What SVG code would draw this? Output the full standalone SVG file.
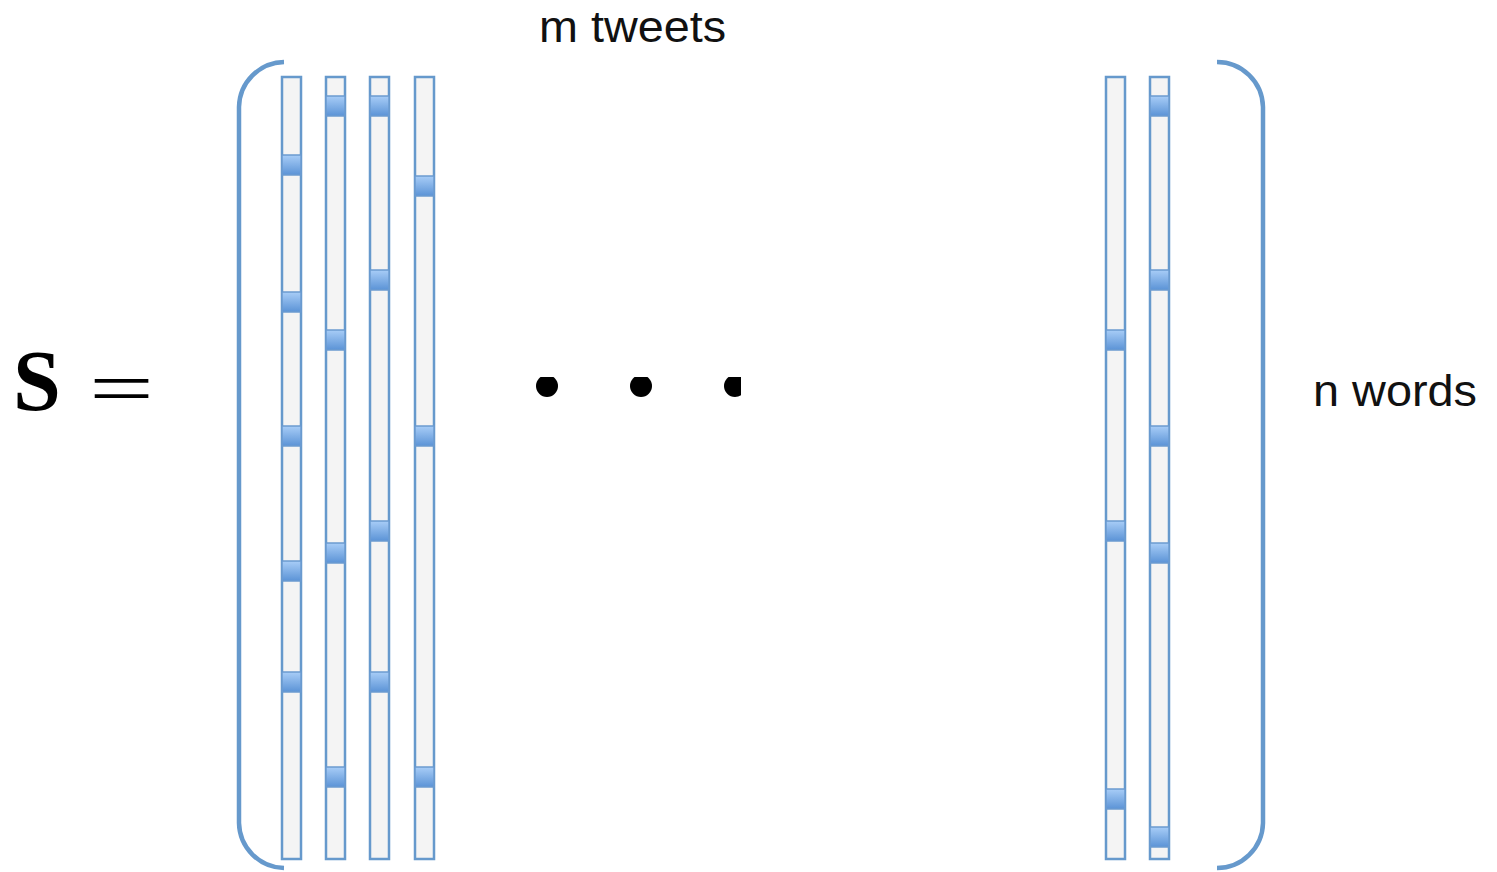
<svg xmlns="http://www.w3.org/2000/svg" width="1497" height="872" viewBox="0 0 1497 872">
<defs>
<linearGradient id="cg" x1="0" y1="0" x2="0" y2="1">
<stop offset="0" stop-color="#a8cdf7"/>
<stop offset="1" stop-color="#5b93d6"/>
</linearGradient>
<clipPath id="dc"><rect x="0" y="377" width="741" height="40"/></clipPath>
<style>
.col{fill:#f4f4f4;stroke:#6699cc;stroke-width:2.5}
.cell{fill:url(#cg);stroke:#6b9bd0;stroke-width:1.5}
.br{fill:none;stroke:#6699cc;stroke-width:4.5}
.lbl{font-family:"Liberation Sans",Arial,sans-serif;font-size:44px;fill:#111}
</style>
</defs>
<rect width="1497" height="872" fill="#fff"/>
<g id="label-S">
<text x="13" y="410" font-family="Liberation Serif,serif" font-weight="bold" font-size="86" fill="#000">S</text>
<text x="89" y="414" font-family="Liberation Serif,serif" font-size="76" fill="#000" textLength="65" lengthAdjust="spacingAndGlyphs">=</text>
</g>
<g id="bracket-left"><path class="br" d="M284,62 A46,46 0 0 0 239,107 L239,823 A46,46 0 0 0 284,868"/></g>
<g id="bracket-right"><path class="br" d="M1217,62 A46,46 0 0 1 1263,107 L1263,823 A46,46 0 0 1 1217,868"/></g>
<g id="col1">
<rect class="col" x="282" y="77" width="19" height="782"/>
<rect class="cell" x="282" y="155" width="19" height="20"/>
<rect class="cell" x="282" y="292" width="19" height="20"/>
<rect class="cell" x="282" y="426" width="19" height="20"/>
<rect class="cell" x="282" y="561" width="19" height="20"/>
<rect class="cell" x="282" y="672" width="19" height="20"/>
</g>
<g id="col2">
<rect class="col" x="326" y="77" width="19" height="782"/>
<rect class="cell" x="326" y="96" width="19" height="20"/>
<rect class="cell" x="326" y="330" width="19" height="20"/>
<rect class="cell" x="326" y="543" width="19" height="20"/>
<rect class="cell" x="326" y="767" width="19" height="20"/>
</g>
<g id="col3">
<rect class="col" x="370" y="77" width="19" height="782"/>
<rect class="cell" x="370" y="96" width="19" height="20"/>
<rect class="cell" x="370" y="270" width="19" height="20"/>
<rect class="cell" x="370" y="521" width="19" height="20"/>
<rect class="cell" x="370" y="672" width="19" height="20"/>
</g>
<g id="col4">
<rect class="col" x="415" y="77" width="19" height="782"/>
<rect class="cell" x="415" y="176" width="19" height="20"/>
<rect class="cell" x="415" y="426" width="19" height="20"/>
<rect class="cell" x="415" y="767" width="19" height="20"/>
</g>
<g id="col5">
<rect class="col" x="1106" y="77" width="19" height="782"/>
<rect class="cell" x="1106" y="330" width="19" height="20"/>
<rect class="cell" x="1106" y="521" width="19" height="20"/>
<rect class="cell" x="1106" y="789" width="19" height="20"/>
</g>
<g id="col6">
<rect class="col" x="1150" y="77" width="19" height="782"/>
<rect class="cell" x="1150" y="96" width="19" height="20"/>
<rect class="cell" x="1150" y="270" width="19" height="20"/>
<rect class="cell" x="1150" y="426" width="19" height="20"/>
<rect class="cell" x="1150" y="543" width="19" height="20"/>
<rect class="cell" x="1150" y="827" width="19" height="20"/>
</g>
<g id="ellipsis" clip-path="url(#dc)" fill="#000">
<circle cx="547" cy="386" r="11"/>
<circle cx="641" cy="386" r="11"/>
<circle cx="735" cy="386" r="11"/>
</g>
<g id="label-m"><text class="lbl" x="539" y="42" textLength="187" lengthAdjust="spacingAndGlyphs">m tweets</text></g>
<g id="label-n"><text class="lbl" x="1313" y="406" textLength="164" lengthAdjust="spacingAndGlyphs">n words</text></g>
</svg>
